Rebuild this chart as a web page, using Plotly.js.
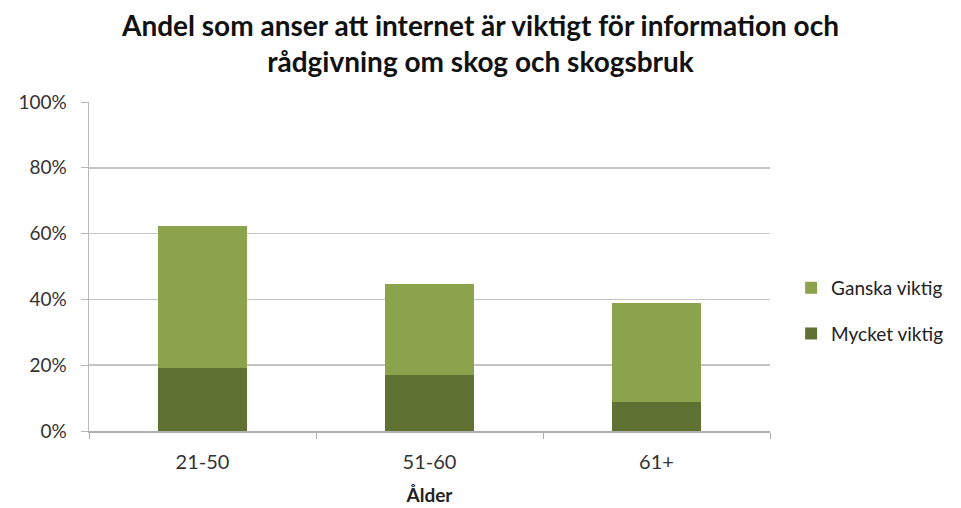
<!DOCTYPE html>
<html>
<head>
<meta charset="utf-8">
<script src="https://cdn.plot.ly/plotly-3.0.1.min.js"></script>
<style>
  html, body { margin: 0; padding: 0; background: #fff; }
  #chart { width: 961px; height: 508px; }
</style>
</head>
<body>
<div id="chart"></div>
<script>
// age groups and shares (percent of respondents)
var ageGroups = ['21-50', '51-60', '61+'];
var mycketViktig = [19.0, 17.0, 8.8];
var ganskaViktig = [43.3, 27.7, 30.1];

var fontFam = 'Lato, "Open Sans", sans-serif';

var traceMycket = {
  x: ageGroups,
  y: mycketViktig,
  name: 'Mycket viktig',
  legendgroup: 'm',
  legendrank: 2,
  type: 'bar',
  marker: { color: '#5f7234' }
};

var traceGanska = {
  x: ageGroups,
  y: ganskaViktig,
  name: 'Ganska viktig',
  legendgroup: 'g',
  legendrank: 1,
  type: 'bar',
  marker: { color: '#8aa34c' }
};

var layout = {
  width: 961,
  height: 508,
  barmode: 'stack',
  bargap: 0.605,
  paper_bgcolor: '#fff',
  plot_bgcolor: '#fff',
  font: { family: fontFam, color: '#333', size: 19 },
  margin: { l: 89, r: 191, t: 102, b: 77 },
  title: {
    text: '<b>Andel som anser att internet är viktigt för information och<br>rådgivning om skog och skogsbruk</b>',
    font: { family: fontFam, size: 28, color: '#111' },
    x: 0.5,
    xref: 'container',
    yref: 'container',
    y: 0.93,
    yanchor: 'middle'
  },
  xaxis: {
    title: { text: '<b>Ålder</b>', font: { size: 19, color: '#222' }, standoff: 17 },
    showline: true,
    linecolor: '#b0b0b0',
    linewidth: 1.5,
    ticks: 'outside',
    tickson: 'boundaries',
    ticklen: 6,
    tickcolor: '#b0b0b0',
    ticklabelstandoff: 12,
    tickfont: { size: 20, color: '#333' },
    showgrid: false
  },
  yaxis: {
    range: [0, 100],
    dtick: 20,
    ticksuffix: '%',
    showline: true,
    linecolor: '#b8b8b8',
    linewidth: 1.5,
    ticks: 'outside',
    ticklen: 7,
    tickcolor: '#b8b8b8',
    gridcolor: '#c4c4c4',
    gridwidth: 1.5,
    zeroline: false,
    ticklabelstandoff: 10,
    tickfont: { size: 19, color: '#333' }
  },
  legend: {
    x: 1.031,
    y: 0.365,
    xanchor: 'left',
    yanchor: 'middle',
    traceorder: 'grouped',
    tracegroupgap: 18,
    font: { size: 19, color: '#222' },
    itemwidth: 30
  },
  showlegend: true
};

Plotly.newPlot('chart', [traceMycket, traceGanska], layout, { displayModeBar: false, staticPlot: true });
</script>
</body>
</html>
